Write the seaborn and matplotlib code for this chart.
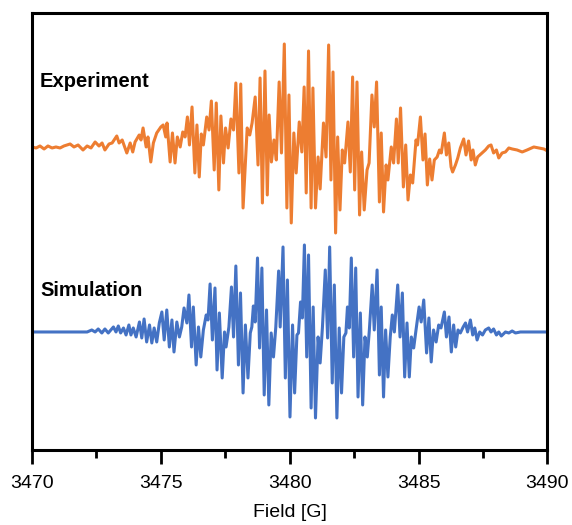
import numpy as np
import matplotlib
matplotlib.use("Agg")
import matplotlib.pyplot as plt
import seaborn as sns

# EPR spectra (field in G, intensity in arb. units, baseline = 0)
exp_field = [
    3470.00, 3470.16, 3470.31, 3470.47, 3470.62, 3470.78, 3470.93, 3471.09, 3471.24, 3471.48,
    3471.63, 3471.79, 3471.98, 3472.14, 3472.29, 3472.45, 3472.60, 3472.72, 3472.83, 3472.99,
    3473.11, 3473.29, 3473.38, 3473.50, 3473.68, 3473.81, 3473.91, 3474.00, 3474.16, 3474.23,
    3474.31, 3474.43, 3474.50, 3474.61, 3474.71, 3474.84, 3475.00, 3475.09, 3475.19, 3475.24,
    3475.36, 3475.45, 3475.55, 3475.64, 3475.75, 3475.85, 3475.94, 3476.03, 3476.11, 3476.21,
    3476.32, 3476.40, 3476.49, 3476.57, 3476.65, 3476.78, 3476.87, 3476.96, 3477.07, 3477.15,
    3477.25, 3477.33, 3477.43, 3477.51, 3477.61, 3477.72, 3477.82, 3477.91, 3478.03, 3478.10,
    3478.19, 3478.35, 3478.45, 3478.54, 3478.66, 3478.77, 3478.85, 3478.94, 3479.04, 3479.13,
    3479.20, 3479.29, 3479.39, 3479.48, 3479.59, 3479.68, 3479.79, 3479.89, 3479.97, 3480.06,
    3480.16, 3480.25, 3480.37, 3480.47, 3480.56, 3480.64, 3480.73, 3480.83, 3480.90, 3481.00,
    3481.10, 3481.18, 3481.31, 3481.41, 3481.51, 3481.60, 3481.68, 3481.78, 3481.86, 3481.95,
    3482.04, 3482.13, 3482.26, 3482.35, 3482.44, 3482.52, 3482.61, 3482.71, 3482.79, 3482.89,
    3483.00, 3483.08, 3483.19, 3483.28, 3483.37, 3483.48, 3483.55, 3483.64, 3483.74, 3483.81,
    3483.94, 3484.03, 3484.14, 3484.21, 3484.30, 3484.41, 3484.50, 3484.59, 3484.68, 3484.77,
    3484.90, 3484.96, 3485.07, 3485.17, 3485.25, 3485.34, 3485.43, 3485.52, 3485.61, 3485.72,
    3485.81, 3485.88, 3486.00, 3486.08, 3486.17, 3486.26, 3486.32, 3486.43, 3486.52, 3486.62,
    3486.75, 3486.84, 3486.94, 3487.04, 3487.11, 3487.20, 3487.29, 3487.46, 3487.59, 3487.72,
    3487.81, 3487.91, 3488.02, 3488.11, 3488.24, 3488.37, 3488.50, 3488.63, 3488.82, 3489.02,
    3489.21, 3489.47, 3489.66, 3489.86, 3490.00,
]
exp_signal = [
    0.00, -0.01, 0.01, -0.02, 0.01, -0.01, 0.00, -0.01, 0.01, 0.03,
    0.00, 0.02, -0.03, 0.01, -0.01, 0.05, 0.01, 0.04, -0.03, 0.03,
    0.04, 0.11, 0.04, 0.07, -0.06, 0.04, -0.05, 0.05, 0.12, 0.07,
    0.19, 0.00, 0.10, -0.15, 0.04, 0.14, 0.20, 0.22, 0.10, 0.24,
    -0.15, 0.14, -0.16, 0.10, 0.00, 0.15, 0.10, 0.30, 0.02, 0.40,
    -0.26, 0.22, -0.30, 0.13, 0.02, 0.30, 0.17, 0.46, -0.23, 0.44,
    -0.43, 0.31, -0.16, 0.19, -0.01, 0.28, 0.17, 0.64, -0.26, 0.63,
    -0.61, 0.19, 0.12, 0.24, 0.50, -0.18, 0.69, -0.56, 0.76, -0.48,
    0.32, -0.15, 0.07, -0.13, 0.65, -0.06, 1.03, -0.61, 0.52, -0.76,
    0.14, -0.26, 0.25, -0.05, 0.60, -0.46, 0.96, -0.61, 0.59, -0.61,
    -0.10, -0.42, 0.24, -0.10, 1.02, -0.33, 0.75, -0.86, 0.10, -0.63,
    -0.03, -0.16, 0.25, -0.25, 0.70, -0.43, 0.65, -0.68, -0.05, -0.63,
    -0.23, -0.16, 0.52, 0.20, 0.65, -0.55, 0.14, -0.65, -0.18, -0.33,
    0.00, -0.16, 0.28, -0.16, 0.39, -0.40, 0.02, -0.53, -0.28, -0.36,
    0.07, 0.02, 0.30, -0.13, 0.13, -0.38, -0.12, -0.33, -0.13, -0.10,
    -0.03, -0.06, 0.14, -0.08, 0.04, -0.20, -0.25, -0.18, -0.11, -0.01,
    0.08, -0.08, 0.06, -0.13, -0.03, -0.18, -0.10, -0.06, -0.03, 0.01,
    0.02, -0.06, -0.03, -0.11, -0.06, -0.05, -0.01, -0.02, -0.03, -0.05,
    -0.03, 0.00, -0.01, -0.02, -0.04,
]

sim_field = [
    3470.00, 3471.09, 3472.14, 3472.32, 3472.45, 3472.57, 3472.71, 3472.83, 3472.96, 3473.16,
    3473.26, 3473.35, 3473.44, 3473.55, 3473.65, 3473.76, 3473.84, 3473.93, 3474.04, 3474.17,
    3474.26, 3474.35, 3474.45, 3474.56, 3474.65, 3474.74, 3474.84, 3474.94, 3475.04, 3475.13,
    3475.23, 3475.33, 3475.43, 3475.51, 3475.62, 3475.72, 3475.81, 3475.90, 3476.01, 3476.09,
    3476.19, 3476.26, 3476.37, 3476.46, 3476.55, 3476.65, 3476.76, 3476.83, 3476.91, 3477.00,
    3477.10, 3477.18, 3477.27, 3477.38, 3477.47, 3477.53, 3477.64, 3477.74, 3477.82, 3477.91,
    3478.01, 3478.09, 3478.19, 3478.28, 3478.38, 3478.47, 3478.53, 3478.59, 3478.66, 3478.75,
    3478.83, 3478.92, 3479.01, 3479.10, 3479.19, 3479.28, 3479.37, 3479.46, 3479.57, 3479.63,
    3479.74, 3479.83, 3479.91, 3480.01, 3480.11, 3480.19, 3480.28, 3480.34, 3480.42, 3480.49,
    3480.57, 3480.66, 3480.73, 3480.83, 3480.91, 3481.00, 3481.10, 3481.18, 3481.27, 3481.38,
    3481.47, 3481.55, 3481.65, 3481.73, 3481.83, 3481.92, 3482.01, 3482.10, 3482.18, 3482.24,
    3482.31, 3482.39, 3482.48, 3482.56, 3482.65, 3482.74, 3482.83, 3482.92, 3483.01, 3483.09,
    3483.20, 3483.28, 3483.39, 3483.48, 3483.55, 3483.64, 3483.72, 3483.81, 3483.90, 3483.98,
    3484.06, 3484.19, 3484.28, 3484.37, 3484.46, 3484.55, 3484.64, 3484.72, 3484.81, 3484.90,
    3485.02, 3485.10, 3485.20, 3485.31, 3485.40, 3485.49, 3485.58, 3485.68, 3485.78, 3485.87,
    3486.00, 3486.08, 3486.18, 3486.27, 3486.36, 3486.44, 3486.53, 3486.62, 3486.73, 3486.82,
    3486.90, 3487.01, 3487.10, 3487.18, 3487.27, 3487.37, 3487.48, 3487.59, 3487.72, 3487.81,
    3487.91, 3488.02, 3488.11, 3488.21, 3488.37, 3488.50, 3488.63, 3488.76, 3488.95, 3489.21,
    3489.60, 3490.00,
]
sim_signal = [
    -0.01, -0.01, -0.01, 0.01, -0.01, 0.02, -0.02, 0.02, -0.02, 0.04,
    -0.01, 0.05, -0.02, 0.03, -0.04, 0.06, -0.04, 0.03, -0.06, 0.09,
    -0.07, 0.12, -0.11, 0.06, -0.12, 0.03, -0.11, 0.08, 0.19, -0.09,
    0.21, -0.16, 0.11, -0.21, 0.09, -0.06, 0.04, 0.23, 0.08, 0.36,
    -0.16, 0.24, -0.34, 0.04, -0.26, 0.01, 0.16, 0.11, 0.47, -0.09,
    0.43, -0.39, 0.18, -0.47, -0.01, -0.16, 0.04, 0.44, -0.06, 0.65,
    -0.34, 0.38, -0.62, 0.06, -0.47, -0.02, 0.04, 0.25, 0.09, 0.73,
    -0.17, 0.63, -0.64, 0.21, -0.74, -0.02, -0.26, 0.04, 0.60, 0.04,
    0.84, -0.47, 0.51, -0.86, 0.06, -0.62, -0.04, -0.02, 0.29, 0.13,
    0.86, -0.26, 0.76, -0.77, 0.24, -0.87, -0.06, -0.32, 0.04, 0.61,
    -0.07, 0.84, -0.52, 0.46, -0.87, 0.03, -0.62, -0.06, -0.02, 0.24,
    0.03, 0.73, -0.26, 0.63, -0.66, 0.18, -0.74, -0.06, -0.26, 0.01,
    0.46, 0.01, 0.61, -0.44, 0.24, -0.66, 0.01, -0.46, -0.06, 0.16,
    -0.01, 0.46, -0.06, 0.38, -0.46, 0.08, -0.46, -0.06, -0.17, 0.01,
    0.24, 0.09, 0.31, -0.22, 0.13, -0.31, 0.01, -0.11, 0.06, 0.03,
    0.19, -0.06, 0.14, -0.21, 0.06, -0.16, 0.01, -0.02, 0.04, 0.08,
    -0.01, 0.11, -0.04, 0.03, -0.09, -0.01, -0.04, 0.01, 0.03, -0.01,
    0.02, -0.04, -0.01, -0.05, -0.01, -0.02, 0.00, -0.02, -0.01, -0.01,
    -0.01, -0.01,
]

exp_offset = 1.84
x_ticks = [3470, 3475, 3480, 3485, 3490]

sns.set_style("white")
plt.rcParams["font.family"] = ["Liberation Sans", "DejaVu Sans"]
plt.rcParams["text.color"] = "black"
plt.rcParams["axes.labelcolor"] = "black"
plt.rcParams["xtick.color"] = "black"

fig = plt.figure(figsize=(5.72, 5.25), dpi=100)
ax = fig.add_axes([0.0559, 0.1429, 0.9012, 0.8318])

sns.lineplot(x=exp_field, y=np.array(exp_signal) + exp_offset, ax=ax,
             color="#ED7D31", linewidth=2.2, estimator=None, sort=False)
sns.lineplot(x=sim_field, y=sim_signal, ax=ax,
             color="#4472C4", linewidth=2.2, estimator=None, sort=False)

ax.text(3470.31, 2.44, "Experiment", fontsize=14.5, fontweight="bold",
        va="baseline", color="black")
ax.text(3470.33, 0.35, "Simulation", fontsize=14.5, fontweight="bold",
        va="baseline", color="black")

ax.set_xlim(3470, 3490)
ax.set_ylim(-1.19, 3.177)
ax.set_xticks(x_ticks)
ax.set_xticks([3472.5, 3477.5, 3482.5, 3487.5], minor=True)
ax.set_yticks([])
ax.tick_params(axis="x", which="major", direction="out", length=10, width=2,
               labelsize=14, pad=8, bottom=True, colors="black")
ax.tick_params(axis="x", which="minor", direction="out", length=5.5, width=2,
               bottom=True, colors="black")
ax.set_xlabel("Field [G]", fontsize=14, labelpad=9, color="black")
ax.set_ylabel("")

for spine in ax.spines.values():
    spine.set_linewidth(2.2)
    spine.set_color("black")

fig.savefig("out.png", dpi=100)
